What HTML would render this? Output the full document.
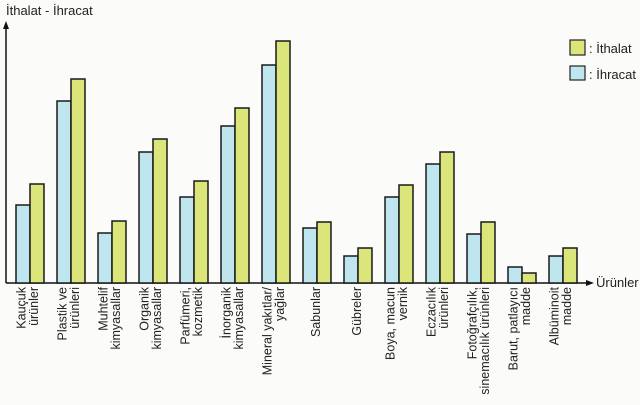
<!DOCTYPE html>
<html><head><meta charset="utf-8"><style>
html,body{margin:0;padding:0;background:#fbfbfa;}
svg{display:block;font-family:"Liberation Sans",sans-serif;}
</style></head><body>
<svg width="640" height="405" viewBox="0 0 640 405">
<rect width="640" height="405" fill="#fbfbfa"/>
<text x="6" y="15" font-size="13" fill="#222">İthalat - İhracat</text>
<line x1="6" y1="283" x2="6" y2="26" stroke="#111" stroke-width="1.5"/>
<polygon points="6,21 3,29 9,29" fill="#111"/>
<line x1="6" y1="283" x2="588" y2="283" stroke="#111" stroke-width="1.5"/>
<polygon points="594,283 586,280 586,286" fill="#111"/>
<text x="596" y="287" font-size="13" fill="#222">Ürünler</text>
<rect x="570" y="40" width="15" height="15" fill="#dbe57a" stroke="#222" stroke-width="1.2"/>
<text x="589" y="53" font-size="13" fill="#222">: İthalat</text>
<rect x="570" y="66" width="15" height="14" fill="#bfe5ee" stroke="#222" stroke-width="1.2"/>
<text x="589" y="79" font-size="13" fill="#222">: İhracat</text>
<g stroke="#1a1a1a" stroke-width="1.5">
<rect x="16" y="205" width="14" height="78" fill="#bfe5ee"/><rect x="30" y="184" width="14" height="99" fill="#dbe57a"/>
<rect x="57" y="101" width="14" height="182" fill="#bfe5ee"/><rect x="71" y="79" width="14" height="204" fill="#dbe57a"/>
<rect x="98" y="233" width="14" height="50" fill="#bfe5ee"/><rect x="112" y="221" width="14" height="62" fill="#dbe57a"/>
<rect x="139" y="152" width="14" height="131" fill="#bfe5ee"/><rect x="153" y="139" width="14" height="144" fill="#dbe57a"/>
<rect x="180" y="197" width="14" height="86" fill="#bfe5ee"/><rect x="194" y="181" width="14" height="102" fill="#dbe57a"/>
<rect x="221" y="126" width="14" height="157" fill="#bfe5ee"/><rect x="235" y="108" width="14" height="175" fill="#dbe57a"/>
<rect x="262" y="65" width="14" height="218" fill="#bfe5ee"/><rect x="276" y="41" width="14" height="242" fill="#dbe57a"/>
<rect x="303" y="228" width="14" height="55" fill="#bfe5ee"/><rect x="317" y="222" width="14" height="61" fill="#dbe57a"/>
<rect x="344" y="256" width="14" height="27" fill="#bfe5ee"/><rect x="358" y="248" width="14" height="35" fill="#dbe57a"/>
<rect x="385" y="197" width="14" height="86" fill="#bfe5ee"/><rect x="399" y="185" width="14" height="98" fill="#dbe57a"/>
<rect x="426" y="164" width="14" height="119" fill="#bfe5ee"/><rect x="440" y="152" width="14" height="131" fill="#dbe57a"/>
<rect x="467" y="234" width="14" height="49" fill="#bfe5ee"/><rect x="481" y="222" width="14" height="61" fill="#dbe57a"/>
<rect x="508" y="267" width="14" height="16" fill="#bfe5ee"/><rect x="522" y="273" width="14" height="10" fill="#dbe57a"/>
<rect x="549" y="256" width="14" height="27" fill="#bfe5ee"/><rect x="563" y="248" width="14" height="35" fill="#dbe57a"/>
</g>
<g font-size="12.5" fill="#222" text-anchor="end">
<text transform="translate(25.5,287) rotate(-90)">Kauçuk</text><text transform="translate(38,287) rotate(-90)">ürünler</text>
<text transform="translate(66.5,287) rotate(-90)">Plastik ve</text><text transform="translate(79,287) rotate(-90)">ürünleri</text>
<text transform="translate(107.5,287) rotate(-90)">Muhtelif</text><text transform="translate(120,287) rotate(-90)">kimyasallar</text>
<text transform="translate(148.5,287) rotate(-90)">Organik</text><text transform="translate(161,287) rotate(-90)">kimyasallar</text>
<text transform="translate(189.5,287) rotate(-90)">Parfümeri,</text><text transform="translate(202,287) rotate(-90)">kozmetik</text>
<text transform="translate(230.5,287) rotate(-90)">İnorganik</text><text transform="translate(243,287) rotate(-90)">kimyasallar</text>
<text transform="translate(271.5,287) rotate(-90)">Mineral yakıtlar/</text><text transform="translate(284,287) rotate(-90)">yağlar</text>
<text transform="translate(320,287) rotate(-90)">Sabunlar</text>
<text transform="translate(361,287) rotate(-90)">Gübreler</text>
<text transform="translate(394.5,287) rotate(-90)">Boya, macun</text><text transform="translate(407,287) rotate(-90)">vernik</text>
<text transform="translate(435.5,287) rotate(-90)">Eczacılık</text><text transform="translate(448,287) rotate(-90)">ürünleri</text>
<text transform="translate(476.5,287) rotate(-90)">Fotoğrafçılık,</text><text transform="translate(489,287) rotate(-90)">sinemacılık ürünleri</text>
<text transform="translate(517.5,287) rotate(-90)">Barut, patlayıcı</text><text transform="translate(530,287) rotate(-90)">madde</text>
<text transform="translate(558.5,287) rotate(-90)">Albüminoit</text><text transform="translate(571,287) rotate(-90)">madde</text>
</g>
</svg>
</body></html>
